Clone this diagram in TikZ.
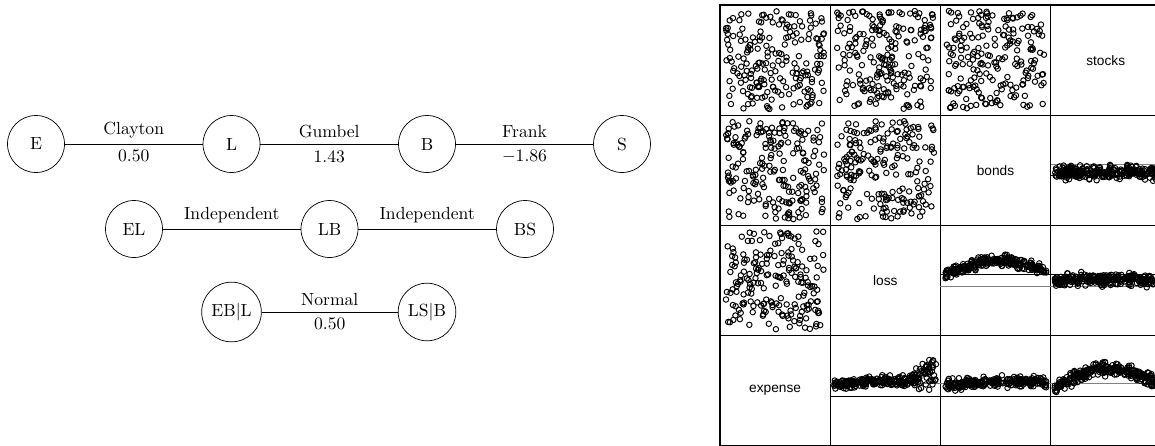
\documentclass[tikz,border=0pt]{standalone}
\usepackage{fontspec}
\newfontfamily\rfont{Liberation Sans}
\usetikzlibrary{positioning}

\newcommand{\cloudpanel}[2]{%
  \foreach \k in {1,...,200}
    \draw[dot] ({#1+6+98*rnd},{#2+6+98*rnd}) circle[radius=1.55pt];}
\newcommand{\bandpanel}[7]{%
  \foreach \k in {1,...,250}{
    \pgfmathsetmacro\tpos{rnd}
    \pgfmathsetmacro\ypos{#3-#4*\tpos-#5*sin(180*\tpos)+(#6)*(rand+rand+rand)/3-(#7)*rnd}
    \draw[dot] ({#1+4+102*\tpos},{#2+\ypos}) circle[radius=1.55pt];}}

\begin{document}
\begin{tikzpicture}[x=0.2mm,y=-0.2mm,
    vine/.style={circle, draw, minimum size=11.4mm},
    dot/.style={line width=0.55pt},
    frame/.style={line width=0.6pt},
    varname/.style={font=\rfont\fontsize{7.8}{9}\selectfont}]
	\useasboundingbox (0,0) rectangle (1155,445);

	\node[vine] (E) at (36,144) {E};
	\node[vine] (L) at (231.5,144) {L};
	\node[vine] (B) at (427,144) {B};
	\node[vine] (S) at (622,144) {S};
	\node[vine] (EL) at (134,229) {EL};
	\node[vine] (LB) at (329.5,229) {LB};
	\node[vine] (BS) at (525,229) {BS};
	\node[vine] (EBL) at (231.5,312) {EB$|$L};
	\node[vine] (LSB) at (427,312) {LS$|$B};

	\draw (E) -- node[above] {Clayton} node[below] {0.50} (L);
	\draw (L) -- node[above] {Gumbel} node[below] {1.43} (B);
	\draw (B) -- node[above] {Frank} node[below] {$-1.86$} (S);
	\draw (EL) -- node[above] {Independent} (LB);
	\draw (LB) -- node[above] {Independent} (BS);
	\draw (EBL) -- node[above] {Normal} node[below] {0.50} (LSB);

	\begin{scope}
		\clip (0,0) rectangle (1155,445);
		\pgfmathsetseed{2718}
		\foreach \i in {0,...,3}
			\foreach \j in {0,...,3}
				\draw[frame] ({720+110.2*\j},{5+110.2*\i}) rectangle ++(110.2,110.2);

		\node[varname] (stocks) at (1105.7,60.1) {stocks};
		\node[varname] (bonds) at (995.5,170.3) {bonds};
		\node[varname] (loss) at (885.3,280.5) {loss};
		\node[varname] (expense) at (775.1,390.7) {expense};

		\draw[gray] (1050.6,164) -- (1160,164);
		\draw (1050.6,175.7) -- (1160,175.7);
		\draw (940.4,274.3) -- (1160,274.3);
		\draw[gray] (940.4,286.6) -- (1160,286.6);
		\draw[gray] (830.2,383.5) -- (1160,383.5);
		\draw (830.2,396) -- (1160,396);

		\cloudpanel{720}{5}
		\cloudpanel{830.2}{5}
		\cloudpanel{940.4}{5}
		\cloudpanel{720}{115.2}
		\cloudpanel{830.2}{115.2}
		\cloudpanel{720}{225.4}

		\bandpanel{1050.6}{115.2}{57}{0}{0}{10}{0}
		\bandpanel{940.4}{225.4}{50}{5}{12}{8}{0}
		\bandpanel{1050.6}{225.4}{56}{0}{3}{9}{0}
		\bandpanel{830.2}{335.6}{50}{0}{5}{7+20*max(0,\tpos-0.7)}{100*max(0,\tpos-0.7)}
		\bandpanel{940.4}{335.6}{49}{3}{1}{8}{0}
		\bandpanel{1050.6}{335.6}{53}{6}{17}{9}{0}
	\end{scope}
\end{tikzpicture}
\end{document}
